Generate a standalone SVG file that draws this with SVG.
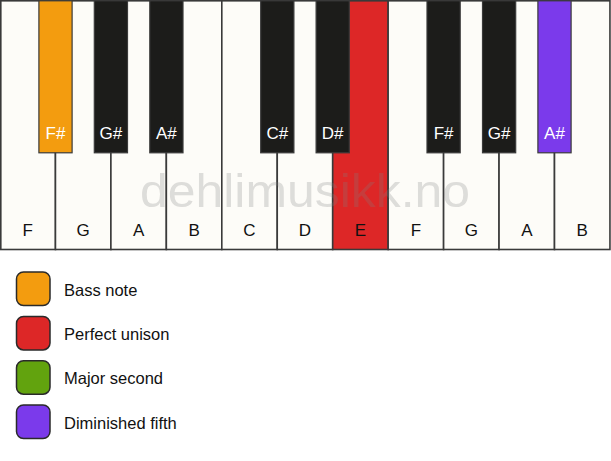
<svg xmlns="http://www.w3.org/2000/svg" width="611" height="461" viewBox="0 0 611 461">
<style>
.w{fill:#fdfcf8;stroke:#3a3a3a;stroke-width:1.6}
.b{fill:#1c1c1a;stroke:#3a3a3a;stroke-width:1.2}
.wl{font-family:"Liberation Sans",Arial,sans-serif;font-size:17px;fill:#111;text-anchor:middle}
.bl{font-family:"Liberation Sans",Arial,sans-serif;font-size:17px;fill:#fff;text-anchor:middle}
.sw{stroke:#2a2a2a;stroke-width:1.5}
.lt{font-family:"Liberation Sans",Arial,sans-serif;font-size:16.5px;fill:#111}
</style>
<rect width="611" height="461" fill="#ffffff"/>
<g id="white-keys">
<g id="wk-F1"><rect class="w" x="0.8" y="0.8" width="54.65" height="248.7"/><text class="wl" x="27.7" y="236">F</text></g>
<g id="wk-G1"><rect class="w" x="55.45" y="0.8" width="55.45" height="248.7"/><text class="wl" x="83.2" y="236">G</text></g>
<g id="wk-A1"><rect class="w" x="110.9" y="0.8" width="55.45" height="248.7"/><text class="wl" x="138.6" y="236">A</text></g>
<g id="wk-B1"><rect class="w" x="166.35" y="0.8" width="55.45" height="248.7"/><text class="wl" x="194.1" y="236">B</text></g>
<g id="wk-C"><rect class="w" x="221.8" y="0.8" width="55.45" height="248.7"/><text class="wl" x="249.5" y="236">C</text></g>
<g id="wk-D"><rect class="w" x="277.25" y="0.8" width="55.45" height="248.7"/><text class="wl" x="305" y="236">D</text></g>
<g id="wk-E"><rect class="w" x="332.7" y="0.8" width="55.45" height="248.7" style="fill:#dd2727"/><text class="wl" x="360.4" y="236">E</text></g>
<g id="wk-F2"><rect class="w" x="388.15" y="0.8" width="55.45" height="248.7"/><text class="wl" x="415.9" y="236">F</text></g>
<g id="wk-G2"><rect class="w" x="443.6" y="0.8" width="55.45" height="248.7"/><text class="wl" x="471.3" y="236">G</text></g>
<g id="wk-A2"><rect class="w" x="499.05" y="0.8" width="55.45" height="248.7"/><text class="wl" x="526.8" y="236">A</text></g>
<g id="wk-B2"><rect class="w" x="554.5" y="0.8" width="55.45" height="248.7"/><text class="wl" x="582.2" y="236">B</text></g>
</g>
<text x="305" y="207" font-family="'Liberation Sans',Arial,sans-serif" font-size="47" fill="#808080" fill-opacity="0.25" text-anchor="middle" textLength="330" lengthAdjust="spacingAndGlyphs">dehlimusikk.no</text>
<g id="black-keys">
<g id="bk-Fs1"><rect class="b" x="38.9" y="0.8" width="33.2" height="152" style="fill:#f39c0f"/><text class="bl" x="55.5" y="139">F#</text></g>
<g id="bk-Gs1"><rect class="b" x="94.3" y="0.8" width="33.2" height="152"/><text class="bl" x="110.9" y="139">G#</text></g>
<g id="bk-As1"><rect class="b" x="149.8" y="0.8" width="33.2" height="152"/><text class="bl" x="166.4" y="139">A#</text></g>
<g id="bk-Cs"><rect class="b" x="260.7" y="0.8" width="33.2" height="152"/><text class="bl" x="277.3" y="139">C#</text></g>
<g id="bk-Ds"><rect class="b" x="316.1" y="0.8" width="33.2" height="152"/><text class="bl" x="332.7" y="139">D#</text></g>
<g id="bk-Fs2"><rect class="b" x="427" y="0.8" width="33.2" height="152"/><text class="bl" x="443.6" y="139">F#</text></g>
<g id="bk-Gs2"><rect class="b" x="482.5" y="0.8" width="33.2" height="152"/><text class="bl" x="499.1" y="139">G#</text></g>
<g id="bk-As2"><rect class="b" x="537.9" y="0.8" width="33.2" height="152" style="fill:#7b3aeb"/><text class="bl" x="554.5" y="139">A#</text></g>
</g>
<g id="legend">
<g id="lg-bass"><rect class="sw" x="16.5" y="272" width="33.5" height="33.5" rx="7" fill="#f39c0f"/><text class="lt" x="64" y="295.7">Bass note</text></g>
<g id="lg-unison"><rect class="sw" x="16.5" y="316.4" width="33.5" height="33.5" rx="7" fill="#dd2727"/><text class="lt" x="64" y="340">Perfect unison</text></g>
<g id="lg-second"><rect class="sw" x="16.5" y="360.7" width="33.5" height="33.5" rx="7" fill="#62a30e"/><text class="lt" x="64" y="384.3">Major second</text></g>
<g id="lg-fifth"><rect class="sw" x="16.5" y="405" width="33.5" height="33.5" rx="7" fill="#7b3aeb"/><text class="lt" x="64" y="428.6">Diminished fifth</text></g>
</g>
<g id="connectors"/>
</svg>
